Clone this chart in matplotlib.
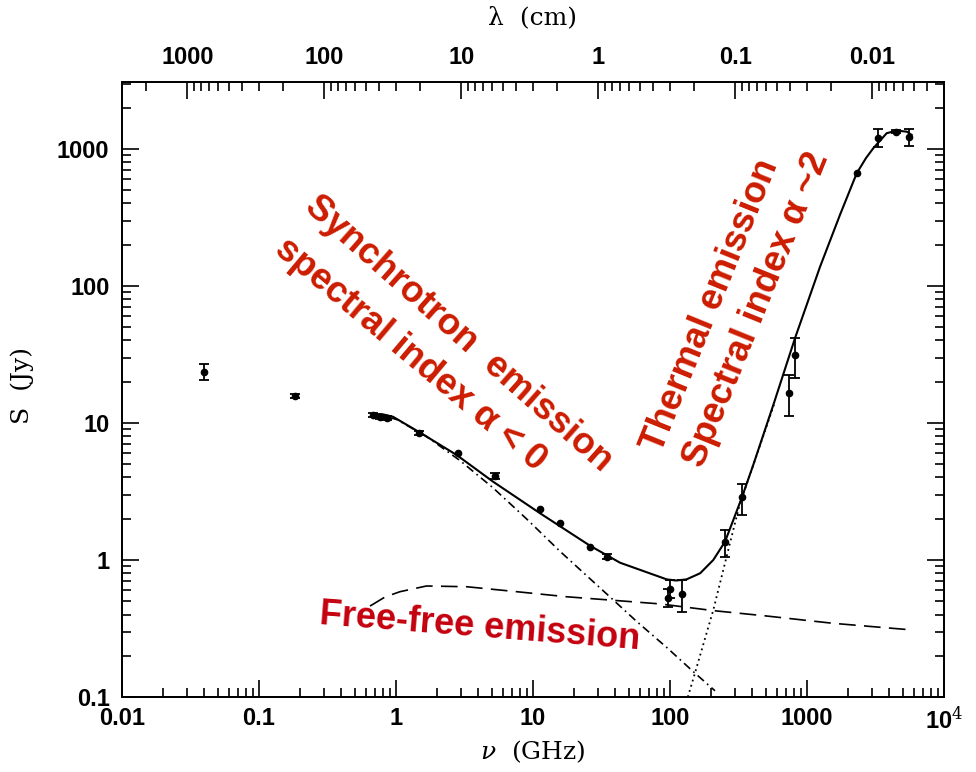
import matplotlib
matplotlib.use("Agg")
import matplotlib.pyplot as plt
from matplotlib.ticker import FixedLocator, LogLocator, NullFormatter, FixedFormatter
import numpy as np

plt.rcParams.update({
    "font.family": "Liberation Sans",
    "mathtext.fontset": "dejavuserif",
    "xtick.direction": "in", "ytick.direction": "in",
    "axes.linewidth": 1.3,
})

RED = "#CC1C00"; RED2 = "#C4000E"; INK = "black"

# observed flux densities (GHz, Jy) with lower / upper errors
nu_obs = [0.040, 0.183, 0.68, 0.76, 0.86, 1.48, 2.82, 5.28, 11.2, 15.7, 26.1, 34.5,
          97, 100, 123, 252, 333, 743, 817, 2307, 3311, 4436, 5585]
S_obs = [23.5, 15.7, 11.4, 11.1, 10.9, 8.5, 6.0, 4.1, 2.36, 1.86, 1.24, 1.06,
         0.525, 0.61, 0.565, 1.36, 2.87, 16.5, 31.4, 671, 1197, 1337, 1231]
err_lo = [3.0, 0.6, 0.4, 0.4, 0.4, 0.3, 0, 0.2, 0, 0, 0, 0.05,
          0.07, 0.08, 0.145, 0.31, 0.74, 5.3, 10.2, 0, 157, 30, 179]
err_hi = [3.3, 0.6, 0.4, 0.4, 0.4, 0.3, 0, 0.2, 0, 0, 0, 0.05,
          0.09, 0.10, 0.15, 0.30, 0.72, 5.9, 10.6, 0, 196, 30, 162]

# model curves
nu_total = [0.665, 0.79, 0.951, 1.50, 2.77, 5.11, 11.2, 26.1, 43.2, 94.6, 111, 132, 166,
            207, 252, 290, 333, 405, 574, 817, 1245, 1740, 2307, 2698, 3047, 3818, 4519,
            5346, 5806]
S_total = [11.6, 11.6, 11.1, 8.50, 5.84, 3.73, 2.20, 1.27, 0.955, 0.722, 0.708, 0.722, 0.80,
           1.0, 1.36, 1.96, 2.82, 4.93, 14.0, 41.5, 138, 330, 665, 859, 1012, 1303, 1361,
           1337, 1265]

nu_sync = [0.665, 0.80, 1.01, 1.67, 2.93, 5.13, 9.0, 15.7, 27.4, 36.5, 57.1, 94.6, 148, 213]
S_sync = [11.6, 11.3, 10.6, 7.97, 5.32, 3.35, 1.99, 1.16, 0.697, 0.537, 0.356, 0.230, 0.153, 0.111]

nu_ff = [0.646, 0.832, 1.07, 1.67, 3.28, 7.60, 17.6, 36.5, 84.5, 207, 508, 1549, 5975]
S_ff = [0.461, 0.537, 0.587, 0.646, 0.638, 0.587, 0.539, 0.51, 0.478, 0.427, 0.390, 0.345, 0.308]

nu_dust = [135, 152, 207, 259, 324, 394, 574]
S_dust = [0.1, 0.149, 0.431, 1.06, 2.59, 4.54, 13.6]

bottom_ticks = [0.01, 0.1, 1, 10, 100, 1000, 1e4]
bottom_labels = ["0.01", "0.1", "1", "10", "100", "1000", "10$^4$"]
left_ticks = [0.1, 1, 10, 100, 1000]
left_labels = ["0.1", "1", "10", "100", "1000"]
top_ticks = [1000, 100, 10, 1, 0.1, 0.01]
top_labels = ["1000", "100", "10", "1", "0.1", "0.01"]

fig = plt.figure(figsize=(9.76, 7.72), dpi=100)
ax = fig.add_axes([122/976, 1 - 697/772, 822/976, 615/772])
ax.set_xscale("log"); ax.set_yscale("log")
ax.set_xlim(0.01, 1e4); ax.set_ylim(0.1, 3080)

ax.plot(nu_total, S_total, color=INK, lw=1.5, zorder=3)
ax.plot(nu_sync, S_sync, color=INK, lw=1.2, dashes=(5, 2.5, 1, 2.5), zorder=2)
ax.plot(nu_ff, S_ff, color=INK, lw=1.2, dashes=(10, 5), zorder=2)
ax.plot(nu_dust, S_dust, color=INK, lw=1.3, dashes=(1, 2), zorder=2)

nu_a = np.array(nu_obs); S_a = np.array(S_obs)
lo = np.array(err_lo); hi = np.array(err_hi)
m = (lo + hi) > 0
ax.errorbar(nu_a[m], S_a[m], yerr=[lo[m], hi[m]], fmt="none", ecolor=INK,
            elinewidth=1.3, capsize=3.5, capthick=1.3, zorder=4)
ax.plot(nu_a, S_a, "o", color=INK, ms=4.5, zorder=5)

tick_font = dict(family="Liberation Sans", size=17, weight="bold")
ax.xaxis.set_major_locator(FixedLocator(bottom_ticks))
ax.xaxis.set_major_formatter(FixedFormatter(bottom_labels))
ax.xaxis.set_minor_locator(LogLocator(base=10, subs=np.arange(2, 10)))
ax.xaxis.set_minor_formatter(NullFormatter())
ax.yaxis.set_major_locator(FixedLocator(left_ticks))
ax.yaxis.set_major_formatter(FixedFormatter(left_labels))
ax.yaxis.set_minor_locator(LogLocator(base=10, subs=np.arange(2, 10)))
ax.yaxis.set_minor_formatter(NullFormatter())
ax.tick_params(which="both", top=False, right=True, width=1.2)
ax.tick_params(which="major", length=12)
ax.tick_params(which="minor", length=6.5)
ax.tick_params(axis="x", which="major", pad=7)
ax.tick_params(axis="y", which="major", pad=9)
for lab in ax.get_xticklabels() + ax.get_yticklabels():
    lab.set_fontproperties(tick_font)

ax2 = ax.twiny()
ax2.set_xscale("log")
ax2.set_xlim(30 / 0.01, 30 / 1e4)   # lambda (cm) = 30 / nu (GHz)
ax2.xaxis.set_major_locator(FixedLocator(top_ticks))
ax2.xaxis.set_major_formatter(FixedFormatter(top_labels))
ax2.xaxis.set_minor_locator(LogLocator(base=10, subs=np.arange(2, 10)))
ax2.xaxis.set_minor_formatter(NullFormatter())
ax2.tick_params(which="both", direction="in", width=1.2)
ax2.tick_params(which="major", length=12, pad=9)
ax2.tick_params(which="minor", length=6.5)
for lab in ax2.get_xticklabels():
    lab.set_fontproperties(tick_font)

lab_font = dict(family="DejaVu Serif", size=18)
fig.text(533/976, 1 - 18/772, "λ  (cm)", ha="center", va="center", **lab_font)
fig.text(533/976, 1 - 752/772, r"$\nu$  (GHz)", ha="center", va="center", **lab_font)
fig.text(22/976, 1 - 385/772, "S  (Jy)", ha="center", va="center", rotation=90, **lab_font)

ann = dict(family="Liberation Sans", weight="bold", ha="center", va="center",
           rotation_mode="anchor")
fig.text(459/976, 1 - 334/772, "Synchrotron  emission", color=RED, size=26.5,
         rotation=-41.5, **ann)
fig.text(410/976, 1 - 355/772, "spectral index α < 0", color=RED, size=26.5,
         rotation=-40, **ann)
fig.text(711/976, 1 - 306/772, "Thermal emission", color=RED, size=26.5,
         rotation=68, **ann)
fig.text(757/976, 1 - 310/772, "Spectral index α ~2", color=RED, size=26.5,
         rotation=68, **ann)
fig.text(480/976, 1 - 627/772, "Free-free emission", color=RED2, size=26,
         rotation=-4.5, **ann)

fig.savefig("out.png", dpi=100, facecolor="white")
